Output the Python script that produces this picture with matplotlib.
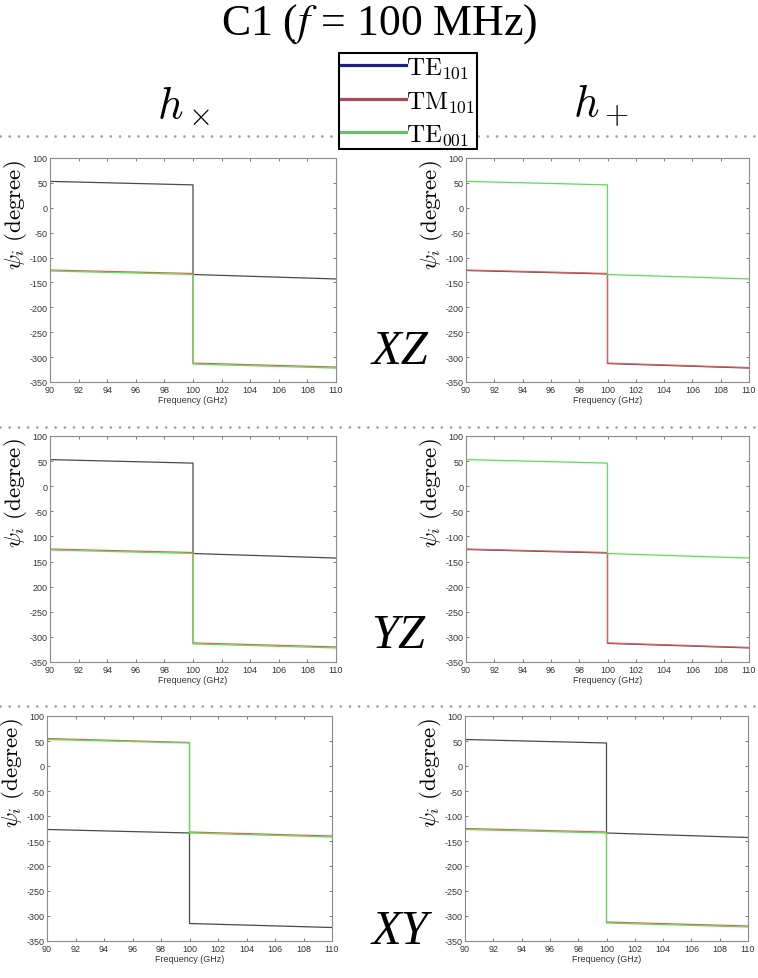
import matplotlib
matplotlib.use("Agg")
import matplotlib.pyplot as plt
from matplotlib.lines import Line2D
from matplotlib.font_manager import FontProperties

plt.rcParams['mathtext.fontset'] = 'stix'
plt.rcParams['axes.unicode_minus'] = False
plt.rcParams['font.family'] = ['Liberation Sans', 'DejaVu Sans']

# ---------------------------------------------------------
# DATA
# ---------------------------------------------------------
FREQ = [90, 100, 100, 110]          # step at 100 GHz
X_TICKS = list(range(90, 111, 2))
Y_TICKS = list(range(-350, 101, 50))
Y_LABELS = [str(v) for v in Y_TICKS]
# the YZ / h_x panel lost some minus signs in the original
Y_LABELS_YZ = ["-350", "-300", "-250", "200", "150", "100", "-50", "0", "50", "100"]

# XZ, h_x
XZ_HX_K = [53, 46, -134, -143]
XZ_HX_R = [-125, -132, -312, -320]
XZ_HX_G = [-127, -134, -314, -322]
# XZ, h_+
XZ_HP_K = [-126, -133, -313, -322]
XZ_HP_R = [-125, -132, -312, -321]
XZ_HP_G = [53, 46, -134, -143]
# YZ, h_x
YZ_HX_K = [53, 46, -134, -143]
YZ_HX_R = [-125, -132, -312, -320]
YZ_HX_G = [-127, -134, -314, -322]
# YZ, h_+
YZ_HP_K = [-126, -133, -313, -322]
YZ_HP_R = [-125, -132, -312, -321]
YZ_HP_G = [53, 46, -134, -143]
# XY, h_x
XY_HX_K = [-127, -134, -315, -323]
XY_HX_R = [55, 47, -132, -140]
XY_HX_G = [53, 46, -134, -142]
# XY, h_+
XY_HP_K = [53, 46, -134, -143]
XY_HP_R = [-125, -132, -312, -320]
XY_HP_G = [-127, -134, -314, -322]

LEGEND_LABELS = [r"$\mathrm{TE}_{101}$", r"$\mathrm{TM}_{101}$", r"$\mathrm{TE}_{001}$"]
ROW_NAMES = ["XZ", "YZ", "XY"]

# ---------------------------------------------------------
# LAYOUT
# ---------------------------------------------------------
W, H = 758, 979
fig = plt.figure(figsize=(W / 100, H / 100), dpi=100)


def px_axes(x0, y0, x1, y1):
    return fig.add_axes([x0 / W, 1 - y1 / H, (x1 - x0) / W, (y1 - y0) / H])


def draw_panel(ax, k, r, g, ylabels):
    ax.plot(FREQ, k, color="#4a4a4a", lw=0.9)
    ax.plot(FREQ, r, color="#e85a5a", lw=0.9)
    ax.plot(FREQ, g, color="#55e055", lw=0.9)
    ax.set_xlim(90, 110)
    ax.set_ylim(-350, 100)
    ax.set_xticks(X_TICKS)
    ax.set_yticks(Y_TICKS)
    ax.set_yticklabels(ylabels)
    ax.tick_params(direction="in", top=True, right=True, length=2.5,
                   width=0.6, labelsize=6.5, labelcolor="#333333",
                   color="#666666", pad=2)
    for s in ax.spines.values():
        s.set_color("#8a8a8a")
        s.set_linewidth(0.8)
    ax.set_xlabel("Frequency (GHz)", fontsize=6.5, color="#333333", labelpad=1)
    ax.text(-0.122, 0.75, r"$\psi_i\ \mathrm{(degree)}$", transform=ax.transAxes,
            rotation=90, ha="center", va="center", fontsize=16.5,
            math_fontfamily="cm")


boxes = [
    ((50, 159, 336, 383), (466, 159, 749, 383)),
    ((50, 437, 336, 663), (466, 437, 749, 663)),
    ((47, 717, 332, 942), (465, 717, 748, 942)),
]
series = [
    ((XZ_HX_K, XZ_HX_R, XZ_HX_G), (XZ_HP_K, XZ_HP_R, XZ_HP_G)),
    ((YZ_HX_K, YZ_HX_R, YZ_HX_G), (YZ_HP_K, YZ_HP_R, YZ_HP_G)),
    ((XY_HX_K, XY_HX_R, XY_HX_G), (XY_HP_K, XY_HP_R, XY_HP_G)),
]

for row in range(3):
    for col in range(2):
        ax = px_axes(*boxes[row][col])
        labels = Y_LABELS_YZ if (row == 1 and col == 0) else Y_LABELS
        draw_panel(ax, *series[row][col], labels)

# row names
row_pos = [(400, 352), (398, 636), (400, 932)]
for name, (x, y) in zip(ROW_NAMES, row_pos):
    fig.text(x / W, 1 - y / H, name, ha="center", va="center",
             fontsize=35, family="Liberation Serif", style="italic")

# dotted separators
for y in [137, 428, 707]:
    fig.add_artist(Line2D([0, 1], [1 - y / H, 1 - y / H], transform=fig.transFigure,
                          ls=(0, (0.01, 3.3)), lw=2, color="#a0a0a0",
                          dash_capstyle="round", zorder=1))

# title + column headers
fig.text(0.5, 1 - 24 / H, "C1 ($f$ = 100 MHz)", ha="center", va="center",
         fontsize=31.5, family="Liberation Serif")
fig.text(183 / W, 1 - 106 / H, r"$h_\times$", ha="center", va="center",
         fontsize=32, math_fontfamily="cm")
fig.text(601 / W, 1 - 106 / H, r"$h_+$", ha="center", va="center",
         fontsize=32, math_fontfamily="cm")

# legend
handles = [Line2D([], [], color=c, lw=2.3) for c in ["#1f2080", "#a84a5a", "#6ac06a"]]
leg = fig.legend(handles, LEGEND_LABELS, loc="upper center",
                 bbox_to_anchor=(408 / W, 1 - 54 / H),
                 prop=FontProperties(size=18, math_fontfamily="cm"),
                 frameon=True, fancybox=False, edgecolor="black", framealpha=1,
                 handlelength=2.6, handletextpad=0.0, labelspacing=0.33,
                 borderpad=0.08, borderaxespad=0)
leg.get_frame().set_linewidth(1.5)
leg.set_zorder(10)

fig.savefig("out.png", dpi=100)
